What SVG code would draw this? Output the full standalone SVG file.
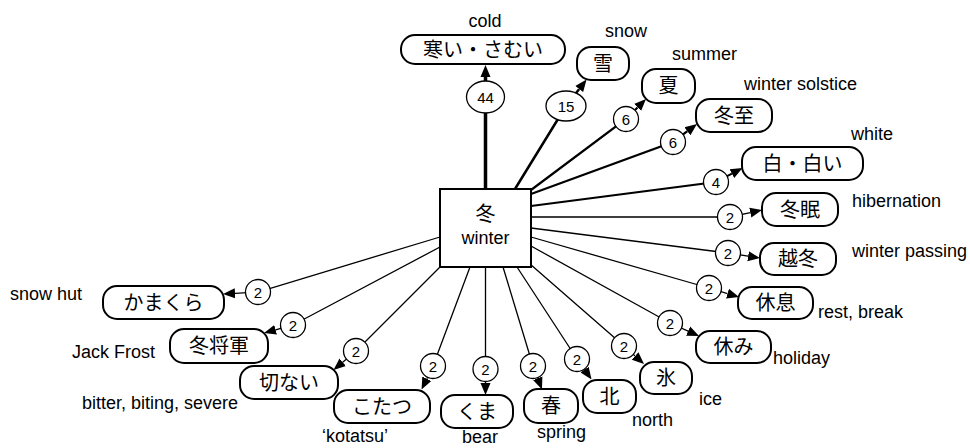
<svg xmlns="http://www.w3.org/2000/svg" width="970" height="448" viewBox="0 0 970 448">
<style>
.pill{fill:#fff;stroke:#000;stroke-width:2}
.box{fill:#fff;stroke:#000;stroke-width:2}
.jp{font-family:"Noto Sans CJK JP","Noto Sans CJK SC",sans-serif;font-size:20px;text-anchor:middle;fill:#000}
.en{font-family:"Liberation Sans",Arial,sans-serif;font-size:18px;fill:#000}
.edge{fill:none;stroke:#000;marker-end:url(#arr)}
.lab{fill:#fff;stroke:#000;stroke-width:1.3}
.num{font-family:"Liberation Sans",Arial,sans-serif;font-size:15px;text-anchor:middle;fill:#000}
</style>
<defs>
<marker id="arr" markerUnits="userSpaceOnUse" viewBox="0 -6 12 12" markerWidth="12" markerHeight="12" refX="0" refY="0" orient="auto">
<path d="M0,-5 L12,0 L0,5 z" fill="#000"/>
</marker>
</defs>
<g id="connectors">
<path class="edge" stroke-width="3.5" d="M485.5,189 L485.5,97 L485.5,77"/>
<path class="edge" stroke-width="2.5" d="M515,189 L566,106 L579.2,89"/>
<path class="edge" stroke-width="2.2" d="M531,190 L626,119 L637.5,107.5"/>
<path class="edge" stroke-width="2.2" d="M531,194 L673,142 L687.4,131.2"/>
<path class="edge" stroke-width="2" d="M531,206 L716,182 L731.9,173.6"/>
<path class="edge" stroke-width="1.3" d="M531,217 L730,217 L750.3,212.6"/>
<path class="edge" stroke-width="1.3" d="M531,228 L728,253 L748.1,256.2"/>
<path class="edge" stroke-width="1.3" d="M531,237 L709,288 L727.5,293.6"/>
<path class="edge" stroke-width="1.3" d="M531,246 L670,323 L688.1,331.1"/>
<path class="edge" stroke-width="1.3" d="M530,264 L624,346 L635.1,356"/>
<path class="edge" stroke-width="1.3" d="M517,267 L577,359 L584.6,369.7"/>
<path class="edge" stroke-width="1.3" d="M503,267 L533,366 L537.7,378.3"/>
<path class="edge" stroke-width="1.3" d="M485.5,267 L485.5,369 L485.5,383"/>
<path class="edge" stroke-width="1.3" d="M470,267 L433,366 L426.8,378.7"/>
<path class="edge" stroke-width="1.3" d="M440,267 L356,351 L342.7,362.2"/>
<path class="edge" stroke-width="1.3" d="M440,247 L293,325 L275.6,329.8"/>
<path class="edge" stroke-width="1.3" d="M440,237 L258,292 L235,293.3"/>
<ellipse class="lab" cx="485.5" cy="97" rx="19" ry="16"/><text class="num" x="485.5" y="102.5">44</text>
<ellipse class="lab" cx="566" cy="106" rx="20" ry="15"/><text class="num" x="566" y="111.5">15</text>
<circle class="lab" cx="626" cy="119" r="12.5"/><text class="num" x="626" y="124.5">6</text>
<circle class="lab" cx="673" cy="142" r="12.5"/><text class="num" x="673" y="147.5">6</text>
<circle class="lab" cx="716" cy="182" r="12.5"/><text class="num" x="716" y="187.5">4</text>
<circle class="lab" cx="730" cy="217" r="12.5"/><text class="num" x="730" y="222.5">2</text>
<circle class="lab" cx="728" cy="253" r="12.5"/><text class="num" x="728" y="258.5">2</text>
<circle class="lab" cx="709" cy="288" r="12.5"/><text class="num" x="709" y="293.5">2</text>
<circle class="lab" cx="670" cy="323" r="12.5"/><text class="num" x="670" y="328.5">2</text>
<circle class="lab" cx="624" cy="346" r="12.5"/><text class="num" x="624" y="351.5">2</text>
<circle class="lab" cx="577" cy="359" r="12.5"/><text class="num" x="577" y="364.5">2</text>
<circle class="lab" cx="533" cy="366" r="12.5"/><text class="num" x="533" y="371.5">2</text>
<circle class="lab" cx="485.5" cy="369" r="12.5"/><text class="num" x="485.5" y="374.5">2</text>
<circle class="lab" cx="433" cy="366" r="12.5"/><text class="num" x="433" y="371.5">2</text>
<circle class="lab" cx="356" cy="351" r="12.5"/><text class="num" x="356" y="356.5">2</text>
<circle class="lab" cx="293" cy="325" r="12.5"/><text class="num" x="293" y="330.5">2</text>
<circle class="lab" cx="258" cy="292" r="12.5"/><text class="num" x="258" y="297.5">2</text>
</g>
<g id="winter">
<rect class="box" x="440" y="189" width="91" height="78"/>
<text class="jp" x="485.5" y="221">冬</text>
<text class="en" x="485.5" y="244" text-anchor="middle">winter</text>
</g>
<g id="cold"><rect class="pill" x="401" y="35" width="164" height="29" rx="14"/><text class="jp" x="483" y="56.5">寒い・さむい</text><text class="en" x="485" y="27" text-anchor="middle">cold</text></g>
<g id="snow"><rect class="pill" x="577" y="47" width="52" height="33" rx="14"/><text class="jp" x="603" y="70.5">雪</text><text class="en" x="605" y="37">snow</text></g>
<g id="summer"><rect class="pill" x="642" y="69" width="53" height="34" rx="14"/><text class="jp" x="668.5" y="93">夏</text><text class="en" x="672" y="60">summer</text></g>
<g id="solstice"><rect class="pill" x="696" y="99" width="76" height="33" rx="14"/><text class="jp" x="734" y="122.5">冬至</text><text class="en" x="744" y="90">winter solstice</text></g>
<g id="white"><rect class="pill" x="742" y="147" width="121" height="33" rx="14"/><text class="jp" x="802.5" y="170.5">白・白い</text><text class="en" x="851" y="140">white</text></g>
<g id="hibernation"><rect class="pill" x="762" y="193" width="76" height="33" rx="14"/><text class="jp" x="800" y="216.5">冬眠</text><text class="en" x="852" y="207">hibernation</text></g>
<g id="passing"><rect class="pill" x="760" y="243" width="76" height="32" rx="14"/><text class="jp" x="798" y="266">越冬</text><text class="en" x="852" y="257">winter passing</text></g>
<g id="rest"><rect class="pill" x="738" y="287" width="75" height="32" rx="14"/><text class="jp" x="775.5" y="310">休息</text><text class="en" x="818" y="318">rest, break</text></g>
<g id="holiday"><rect class="pill" x="696" y="331" width="75" height="32" rx="14"/><text class="jp" x="733.5" y="354">休み</text><text class="en" x="773" y="364">holiday</text></g>
<g id="ice"><rect class="pill" x="640" y="362" width="52" height="32" rx="14"/><text class="jp" x="666" y="385">氷</text><text class="en" x="699" y="405">ice</text></g>
<g id="north"><rect class="pill" x="583" y="380" width="53" height="33" rx="14"/><text class="jp" x="609.5" y="403.5">北</text><text class="en" x="632" y="426">north</text></g>
<g id="spring"><rect class="pill" x="524" y="389" width="54" height="34" rx="14"/><text class="jp" x="551" y="413">春</text><text class="en" x="537" y="438">spring</text></g>
<g id="bear"><rect class="pill" x="441" y="395" width="72" height="33" rx="14"/><text class="jp" x="477" y="418.5">くま</text><text class="en" x="462" y="443">bear</text></g>
<g id="kotatsu"><rect class="pill" x="334" y="390" width="96" height="33" rx="14"/><text class="jp" x="382" y="413.5">こたつ</text><text class="en" x="322" y="442">‘kotatsu’</text></g>
<g id="bitter"><rect class="pill" x="240" y="366" width="98" height="33" rx="14"/><text class="jp" x="289" y="389.5">切ない</text><text class="en" x="82" y="409">bitter, biting, severe</text></g>
<g id="jackfrost"><rect class="pill" x="170" y="329" width="98" height="34" rx="14"/><text class="jp" x="219" y="353">冬将軍</text><text class="en" x="72" y="358">Jack Frost</text></g>
<g id="snowhut"><rect class="pill" x="103" y="286" width="121" height="33" rx="14"/><text class="jp" x="163.5" y="309.5">かまくら</text><text class="en" x="10" y="300">snow hut</text></g>
</svg>
